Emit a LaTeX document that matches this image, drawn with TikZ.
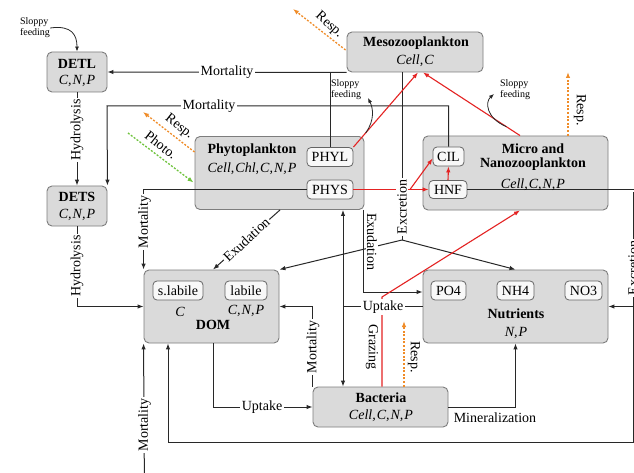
\documentclass[tikz,border=0pt]{standalone}
\usepackage{fontspec}
\setmainfont{Liberation Serif}
\usetikzlibrary{arrows.meta,calc}
\definecolor{boxfill}{RGB}{218,218,218}
\definecolor{boxdraw}{RGB}{125,125,125}
\definecolor{innerfill}{RGB}{248,248,248}
\definecolor{lnc}{RGB}{40,40,40}
\definecolor{respc}{RGB}{240,140,40}
\definecolor{photoc}{RGB}{110,195,60}
\definecolor{grazc}{RGB}{228,35,35}
\begin{document}
\begin{tikzpicture}[x=1pt,y=-1pt,
  font=\fontsize{14}{16}\selectfont,
  bigbox/.style={draw=boxdraw, fill=boxfill, rounded corners=5pt, line width=0.9pt, inner sep=0pt},
  inbox/.style={draw=boxdraw!80!black, fill=innerfill, rounded corners=4pt, line width=0.8pt, inner sep=0pt, minimum height=19pt},
  ln/.style={draw=lnc, line width=1pt},
  fl/.style={ln, -{Latex[length=6pt,width=4.5pt]}},
  thin/.style={draw=lnc, line width=0.8pt, -{Latex[length=5pt,width=4pt]}},
  rsp/.style={draw=respc, line width=1.3pt, dash pattern=on 2pt off 1.6pt, -{Latex[length=6pt,width=4.5pt]}},
  pht/.style={draw=photoc, line width=1.3pt, dash pattern=on 2pt off 1.6pt, -{Latex[length=6pt,width=4.5pt]}},
  grz/.style={draw=grazc, line width=1.1pt, -{Latex[length=6pt,width=4.5pt]}},
  grzl/.style={draw=grazc, line width=1.1pt},
  lab/.style={fill=white, inner sep=1.5pt},
  small/.style={font=\fontsize{10}{11}\selectfont, align=left, inner sep=0pt},
  bold/.style={font=\fontsize{14}{16}\selectfont\bfseries},
  it/.style={font=\fontsize{14}{16}\selectfont\itshape}
]
\fill[white] (0,0) rectangle (634,473);
\useasboundingbox (0,0) rectangle (634,473);

% ---------- big boxes ----------
\node[bigbox, minimum width=60pt, minimum height=40pt] (DETL) at (77,72) {};
\node[bigbox, minimum width=60pt, minimum height=40pt] (DETS) at (77,206) {};
\node[bigbox, minimum width=136pt, minimum height=40pt] (Meso) at (415,52) {};
\node[bigbox, minimum width=169pt, minimum height=73pt] (Phyto) at (279.5,173) {};
\node[bigbox, minimum width=185pt, minimum height=74pt] (Micro) at (515.5,173) {};
\node[bigbox, minimum width=135pt, minimum height=73pt] (DOM) at (211.5,306.5) {};
\node[bigbox, minimum width=185pt, minimum height=73pt] (Nutrients) at (515.5,306.5) {};
\node[bigbox, minimum width=135pt, minimum height=40pt] (Bacteria) at (380.5,407) {};

% ---------- connectors (black) ----------
% sloppy feeding to DETL
\node[small] (sf1) at (35,28) {Sloppy\\feeding};
\draw[thin] (sf1.east) .. controls (72,25) and (77,35) .. (DETL.north);

% mortality Meso/PHYL -> DETL
\draw[fl] (Meso.south west) -- (DETL.east);
\node[inbox, minimum width=46pt] (PHYL) at (330,157) {PHYL};
\draw[ln] (PHYL.north) -- (PHYL.north |- Meso.south west);

% mortality CIL -> DETS
\node[inbox, minimum width=31pt] (CIL) at (448.5,156.5) {CIL};
\coordinate (m2) at (107,106);
\draw[fl] (CIL.north) |- (m2) -- (DETS.north east);

% mortality PHYS -> DOM
\node[inbox, minimum width=46pt] (PHYS) at (330,189.5) {PHYS};
\draw[fl] (PHYS.west) -| (DOM.north west);

% excretion HNF -> Nutrients, DOM
\node[inbox, minimum width=38pt, minimum height=18pt] (HNF) at (448,189.5) {HNF};
\coordinate (ex) at (633,193);
\coordinate (bl) at (168,442);
\draw[ln] (HNF.east) -- ++(190,0) -- ++(0,3.5) -- (ex) -- (ex |- bl) -- (bl);
\draw[fl] (bl) -- (bl |- DOM.south);
\draw[fl] (Nutrients.east -| ex) -- (Nutrients.east);

% hydrolysis
\draw[fl] (DETL.south) -- (DETS.north);
\draw[fl] (DETS.south) |- (DOM.west);

% excretion Meso -> DOM, Nutrients
\coordinate (xj) at (402,240);
\draw[ln] (Meso.south -| xj) -- (xj);
\draw[fl] (xj) -- (DOM.north east);
\draw[fl] (xj) -- (Nutrients.north);

% exudation
\draw[fl] ($(Phyto.south)+(0.5,0)$) -- ($(DOM.north)+(1.5,0)$);
\coordinate (ev) at (363,292);
\draw[fl] (ev |- Phyto.south) -- (ev) -- (ev -| Nutrients.west);

% uptake nutrients
\coordinate (uj) at (343,307);
\draw[fl] (Nutrients.west) -- (uj |- Nutrients.west) -- (uj |- Phyto.south);
\draw[fl] (uj |- Nutrients.west) -- (uj |- Bacteria.north);

% bacteria mortality -> DOM
\draw[fl] (Bacteria.north west) -- (Bacteria.north west |- DOM.east) -- (DOM.east);

% DOM uptake -> bacteria
\coordinate (du) at (213,407);
\draw[fl] (du |- DOM.south) -- (du) -- (Bacteria.west);

% mineralization
\draw[fl] (Bacteria.east) -| (Nutrients.south);

% bottom-left mortality
\coordinate (bm) at (144.5,500);
\draw[fl] (bm) -- (DOM.south west);

% ---------- respiration / photosynthesis ----------
\coordinate (r1) at (143,112);
\draw[rsp] ($(Phyto.north west)+(0,16)$) -- (r1);
\coordinate (p1) at (128,133);
\draw[pht] (p1) -- ($(Phyto.west)+(-1,9.5)$);
\coordinate (r2) at (293,9);
\draw[rsp] ($(Meso.west)+(-1,-2)$) -- (r2);
\coordinate (r3) at (568,72);
\draw[rsp] (r3 |- Micro.north) -- (r3);
\coordinate (r4) at (404,321);
\draw[rsp] (r4 |- Bacteria.north) -- (r4);

% ---------- grazing (red) ----------
\coordinate (mz1) at ($(Meso.south)+(3,0)$);
\coordinate (mz2) at ($(Meso.south)+(8,0)$);
\coordinate (mi1) at ($(Micro.north)+(4.5,0)$);
\draw[grz] (PHYL.north east) -- (mz1);
\draw[grz] (mi1) -- (mz2);
\coordinate (fk) at (410,189.5);
\draw[grzl] (PHYS.east) -- (fk);
\draw[grz] (fk) -- (HNF.west);
\draw[grz] (fk) -- ($(CIL.west)+(0,2)$);
\draw[grz] (HNF.north) -- (CIL.south);
\coordinate (gz) at (382,297);
\draw[grz] (gz |- Bacteria.north) -- (gz) -- ($(Micro.south)+(4.5,0)$);

% sloppy feeding (middle and right)
\path (PHYL.north east) -- (mz1) coordinate[pos=0.19] (s2a);
\node[small] (sf2) at (346,90) {Sloppy\\feeding};
\draw[thin] (s2a) .. controls (375,120) and (373,108) .. (368,98);
\path (mi1) -- (mz2) coordinate[pos=0.14] (s3a);
\node[small] (sf3) at (515,90) {Sloppy\\feeding};
\draw[thin] (s3a) .. controls (486,118) and (485,102) .. (494,94);

% ---------- box texts ----------
\node[bold] (tDETL) at (77,64) {DETL};
\node[it] (vDETL) at (77,81) {C,\kern1pt N,\kern1pt P};
\node[bold] (tDETS) at (77,197) {DETS};
\node[it] (vDETS) at (77,215) {C,\kern1pt N,\kern1pt P};
\node[bold] (tMeso) at (416,43) {Mesozooplankton};
\node[it] (vMeso) at (415,61) {Cell,\kern1pt C};
\node[bold] (tPhyto) at (252,150) {Phytoplankton};
\node[it] (vPhyto) at (252,169) {Cell,\kern1pt Chl,\kern1pt C,\kern1pt N,\kern1pt P};
\node[bold, align=center] (tMicro) at (533,157) {Micro and\\[-2pt]Nanozooplankton};
\node[it] (vMicro) at (533,185) {Cell,\kern1pt C,\kern1pt N,\kern1pt P};
\node[inbox, minimum width=50pt] (slab) at (178,290.5) {s.labile};
\node[inbox, minimum width=42pt] (lab) at (246,290.5) {labile};
\node[it] (vs) at (180,312) {C};
\node[it] (vl) at (246,311) {C,\kern1pt N,\kern1pt P};
\node[bold] (tDOM) at (213,325) {DOM};
\node[inbox, minimum width=35pt] (PO4) at (448.5,290.5) {PO4};
\node[inbox, minimum width=37pt] (NH4) at (515.5,290.5) {NH4};
\node[inbox, minimum width=37pt] (NO3) at (583.5,290.5) {NO3};
\node[bold] (tNut) at (516,314) {Nutrients};
\node[it] (vNut) at (516,333) {N,\kern1pt P};
\node[bold] (tBac) at (381,398) {Bacteria};
\node[it] (vBac) at (381,416) {Cell,\kern1pt C,\kern1pt N,\kern1pt P};

% ---------- connector labels ----------
\node[lab] (lm1) at (227,72) {Mortality};
\node[lab] (lm2) at (209,106) {Mortality};
\node[lab, rotate=90] (lm3) at (144.5,222) {Mortality};
\node[lab, rotate=90] (lm4) at (313,347) {Mortality};
\node[lab, rotate=90] (lm5) at (144.5,425) {Mortality};
\node[lab, rotate=90] (lh1) at (77,130) {Hydrolysis};
\node[lab, rotate=90] (lh2) at (77,266) {Hydrolysis};
\node[lab, rotate=90] (lx1) at (402,207) {Excretion};
\node[lab, rotate=90] (lx2) at (633,268) {Excretion};
\node[lab, rotate=43] (le1) at (246.5,239.5) {Exudation};
\node[lab, rotate=-90] (le2) at (372,242) {Exudation};
\node[lab] (lu1) at (383,307) {Uptake};
\node[lab] (lu2) at (262,407) {Uptake};
\node (lmin) at (495,418) {Mineralization};
\node[rotate=-90] (lg) at (372,347) {Grazing};
\node[rotate=-38] (lr1) at (179,127) {Resp.};
\node[rotate=-38] (lp1) at (161,145) {Photo.};
\node[rotate=-42] (lr2) at (329,25) {Resp.};
\node[rotate=-90] (lr3) at (580,110) {Resp.};
\node[rotate=-90] (lr4) at (414,357) {Resp.};
\end{tikzpicture}
\end{document}
